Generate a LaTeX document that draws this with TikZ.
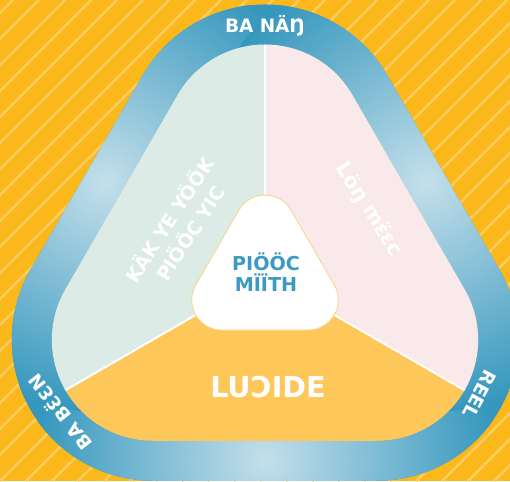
\documentclass[tikz,border=0pt]{standalone}
\usepackage{fontspec}
\setmainfont{DejaVu Sans}
\usetikzlibrary{calc}
\definecolor{nenCam}{HTML}{FBB81A}
\definecolor{socCam}{HTML}{FDCA5C}
\definecolor{xanhDai}{HTML}{3597BD}
\definecolor{xanhNhat}{HTML}{C4DFEB}
\definecolor{xanhLa}{HTML}{DDEBE7}
\definecolor{hongNhat}{HTML}{F9E9EA}
\definecolor{vangNhat}{HTML}{FEC75A}
\definecolor{chuXanh}{HTML}{3A9AC1}
\definecolor{vienVang}{HTML}{F5D88E}
\tikzset{
	soc/.style={socCam,line width=1.6pt},
	vach/.style={white,line width=1.1pt},
	nhanDai/.style={text=white,inner sep=0pt,font=\bfseries\fontsize{10.5}{12}\selectfont},
	nhanCanh/.style={text=white,inner sep=0pt,align=center,font=\bfseries\fontsize{10.8}{14}\selectfont},
}
%tam giac bo tron: #1 = ten tam, #2 = ban kinh
\newcommand\tamgiac[2]{($(#1b)+(-90:#2)$) -- ($(#1c)+(-90:#2)$)
	arc[start angle=-90,end angle=30,radius=#2] -- ($(#1a)+(30:#2)$)
	arc[start angle=30,end angle=150,radius=#2] -- ($(#1b)+(150:#2)$)
	arc[start angle=150,end angle=270,radius=#2] -- cycle}
\begin{document}
\begin{tikzpicture}[x=0.02cm,y=0.02cm]
	\useasboundingbox (0,0) rectangle (510,481);
	\clip (0,0) rectangle (510,481);
	%Nen
	\fill[nenCam] (0,0) rectangle (510,481);
	\foreach \i in {-494,-468,...,510}
		\draw[soc] (\i,0) -- ++(481,481);
	%Tam
	\coordinate (o) at (265,206);
	\coordinate (ca) at (265,335.5);
	\coordinate (cb) at (152.85,141.25);
	\coordinate (cc) at (377.15,141.25);
	\coordinate (qa) at (265,256);
	\coordinate (qb) at (221.7,181);
	\coordinate (qc) at (308.3,181);
	%Vien xanh
	\begin{scope}[even odd rule]
		\clip \tamgiac{c}{141} \tamgiac{c}{101};
		\fill[xanhDai] (0,0) rectangle (510,481);
		\foreach \x/\y in {265/21.25,104.99/298.4,425.01/298.4}
			\shade[inner color=xanhNhat,outer color=xanhDai] (\x,\y) circle[radius=230];
	\end{scope}
	%Ba phan
	\coordinate (d1) at ($(o)+(90:300)$);
	\coordinate (d2) at ($(o)+(210:300)$);
	\coordinate (d3) at ($(o)+(330:300)$);
	\begin{scope}
		\clip \tamgiac{c}{101};
		\fill[xanhLa] (o) -- (d1) -- ($(o)+(150:300)$) -- (d2) -- cycle;
		\fill[hongNhat] (o) -- (d1) -- ($(o)+(30:300)$) -- (d3) -- cycle;
		\fill[vangNhat] (o) -- (d2) -- ($(o)+(270:300)$) -- (d3) -- cycle;
		\draw[vach] (o) -- (d1);
		\draw[vach] (o) -- (d2);
		\draw[vach] (o) -- (d3);
	\end{scope}
	%Giua
	\filldraw[fill=white,draw=vienVang,line width=.5pt] \tamgiac{q}{30};
	%Chu
	\node[nhanDai] (tren) at ($(ca)+(90:120)$) {BA NÄŊ};
	\node[nhanDai,rotate=128] (trai) at ($(cb)+(218:119)$) {BA BƐ̈ƐN};
	\node[nhanDai,rotate=-118] (phai) at ($(cc)+(-28:116)$) {REEL};
	\node[nhanCanh,rotate=57] (canhTrai) at (179,255) {KÄK YE YÖÖK\\PIÖÖC YIC};
	\node[nhanCanh,rotate=-58,font=\bfseries\fontsize{11.8}{14}\selectfont] (canhPhai) at (369,271) {Löŋ mɛ̈ɛc};
	\node[nhanCanh,font=\bfseries\fontsize{16.3}{20}\selectfont] (canhDuoi) at (268,94) {LUƆIDE};
	\node[nhanCanh,text=chuXanh,font=\bfseries\fontsize{10.9}{12}\selectfont] (giua) at (266,209) {PIÖÖC\\MÏÏTH};
\end{tikzpicture}
\end{document}
